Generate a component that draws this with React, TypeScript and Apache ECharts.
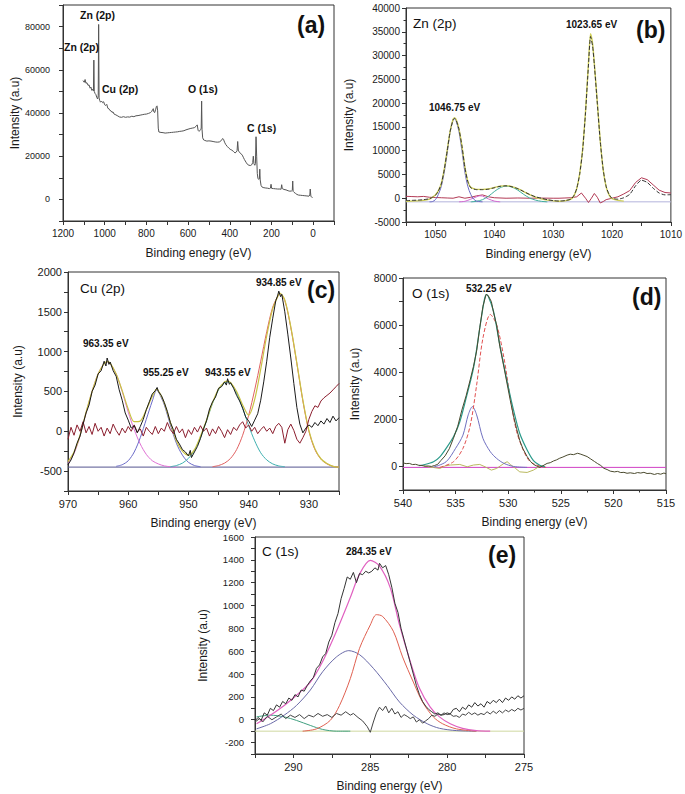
import React, { useEffect, useRef } from "react";
import * as echarts from "echarts";

type P = [number, number][];

// ---------- (a) survey spectrum ----------
const surveyData: P = [
  [1104, 55000], [1098, 54200], [1094, 55500], [1090, 53800], [1085, 54000], [1080, 52800], [1075, 53000], [1070, 51500],
  [1066, 52000], [1062, 50500], [1058, 51000], [1054, 50200], [1052, 64500], [1050, 50000], [1046, 49000], [1042, 48500],
  [1038, 47200], [1034, 46500], [1031, 48000], [1029, 81000], [1027, 47000], [1024, 45800], [1020, 45000], [1015, 45500],
  [1010, 44800], [1005, 45200], [1000, 43800], [995, 43500], [990, 44000], [985, 42200], [980, 42000], [975, 41200],
  [970, 41000], [965, 40300], [960, 40500], [955, 39500], [950, 39300], [940, 38800], [930, 38200], [920, 38000],
  [910, 38300], [900, 38000], [890, 38200], [880, 38100], [870, 38500], [860, 38300], [850, 38700], [840, 38800],
  [830, 39000], [820, 39200], [810, 39400], [800, 39500], [790, 39800], [780, 40200], [774, 40800], [770, 41600],
  [767, 42000], [764, 40500], [760, 40200], [756, 41500], [752, 43000], [749, 43300], [746, 41000], [743, 33000],
  [740, 31200], [730, 31000], [720, 30900], [710, 30700], [700, 30800], [690, 30900], [680, 31000], [670, 31100],
  [660, 31200], [650, 31300], [640, 31500], [630, 31600], [620, 31800], [610, 32200], [600, 32500], [590, 32800],
  [580, 33000], [570, 33200], [562, 33800], [556, 34500], [552, 32000], [548, 31500], [544, 31800], [540, 32200],
  [537, 33000], [535, 45500], [533, 32500], [530, 28500], [525, 27500], [520, 27300], [510, 27000], [500, 27100],
  [490, 27000], [480, 26800], [470, 26600], [460, 26500], [450, 26600], [440, 27300], [434, 28200], [430, 27800],
  [425, 26500], [420, 25500], [412, 24500], [405, 23800], [398, 23200], [390, 22800], [382, 22200], [375, 21500],
  [370, 21800], [365, 22500], [362, 26800], [359, 22800], [355, 22000], [350, 21500], [345, 21000], [340, 20500],
  [335, 19500], [330, 18500], [322, 17200], [315, 16200], [308, 15800], [300, 15700], [295, 16000], [290, 17000],
  [287, 20000], [284, 16500], [280, 15800], [277, 16500], [274, 29000], [271, 20000], [268, 12000], [265, 9800],
  [262, 9300], [258, 9500], [256, 14000], [254, 9000], [250, 6500], [246, 5800], [240, 5500], [230, 5300],
  [220, 5200], [210, 5000], [205, 5200], [202, 7000], [199, 5100], [190, 5000], [180, 4900], [170, 4800],
  [160, 4800], [154, 4700], [151, 6800], [148, 5000], [140, 4600], [130, 4400], [120, 4000], [112, 3800],
  [104, 3900], [100, 4200], [98, 8500], [96, 3700], [92, 3300], [85, 2800], [78, 2300], [70, 2000],
  [60, 1900], [50, 1800], [40, 1700], [30, 1600], [20, 1500], [16, 2000], [14, 4800], [11, 1500],
  [7, 1000], [3, 900], [0, 800],
];

// ---------- (b) Zn 2p ----------
const znData: P = [
  [1055, -500], [1054, -450], [1053, -400], [1052, -300], [1051, -100], [1050.5, 200], [1050, 600], [1049.5, 1500],
  [1049, 3000], [1048.5, 6000], [1048, 10000], [1047.5, 14000], [1047, 16500], [1046.75, 16800], [1046.5, 16500],
  [1046, 14500], [1045.5, 11000], [1045, 6500], [1044.5, 3500], [1044, 2200], [1043, 1800], [1042, 1800], [1041, 1900],
  [1040, 2200], [1039, 2500], [1038, 2600], [1037, 2400], [1036, 2000], [1035, 1400], [1034, 800], [1033, 300],
  [1032, 0], [1031, -300], [1030, -500], [1029, -600], [1028, -500], [1027, -200], [1026.5, 500], [1026, 2000],
  [1025.5, 5000], [1025, 10000], [1024.5, 18000], [1024, 28000], [1023.65, 34000], [1023.3, 32000], [1023, 28000],
  [1022.5, 20000], [1022, 12000], [1021.5, 6000], [1021, 2500], [1020.5, 800], [1020, 0], [1019, -200], [1018, 100],
  [1017, 800], [1016, 2600], [1015, 3800], [1014, 3300], [1013, 2100], [1012, 1100], [1011, 700], [1010, 750],
];
const znEnvelope: P = [
  [1055, -650], [1052, -450], [1051, -200], [1050.5, 200], [1050, 700], [1049.5, 1600], [1049, 3100], [1048.5, 6100],
  [1048, 10100], [1047.5, 14100], [1047, 16600], [1046.75, 16900], [1046.5, 16600], [1046, 14600], [1045.5, 11000],
  [1045, 6600], [1044.5, 3600], [1044, 2300], [1043, 1850], [1042, 1850], [1041, 1950], [1040, 2250], [1039, 2550],
  [1038, 2650], [1037, 2450], [1036, 2000], [1035, 1400], [1034, 750], [1033, 200], [1032, -150], [1031, -400],
  [1030, -550], [1029, -650], [1028, -550], [1027, -200], [1026.5, 450], [1026, 2000], [1025.5, 5100], [1025, 10200],
  [1024.5, 18300], [1024, 28500], [1023.65, 34600], [1023.3, 32500], [1023, 28300], [1022.5, 20200], [1022, 12100],
  [1021.5, 6000], [1021, 2400], [1020.5, 700], [1020, -100], [1019, -450], [1018, -600],
];
const znComp1: P = [
  [1051, -760], [1050.5, -700], [1050, -300], [1049.5, 800], [1049, 2500], [1048.5, 5500], [1048, 9500], [1047.5, 14000],
  [1047, 16400], [1046.75, 16700], [1046.5, 16300], [1046, 14000], [1045.5, 10000], [1045, 5500], [1044.5, 2500],
  [1044, 800], [1043.5, -200], [1043, -600], [1042, -760],
];
const znComp2: P = [
  [1046, -760], [1045, -650], [1044, -200], [1043, 300], [1042.5, 500], [1042, 450], [1041.5, 150], [1041, -150],
  [1040, -600], [1039, -760],
];
const znComp3: P = [
  [1044, -760], [1043, -650], [1042, -300], [1041, 400], [1040, 1400], [1039, 2200], [1038, 2550], [1037, 2350],
  [1036, 1700], [1035, 800], [1034, 50], [1033, -400], [1032, -650], [1031, -760],
];
const znResidual: P = [
  [1055, 400], [1054, 350], [1053, 300], [1052, 380], [1051, 200], [1050, 150], [1049, 100], [1048, 50], [1047, 0],
  [1046, 300], [1045, 0], [1044, 200], [1043, 500], [1042, 700], [1041, 300], [1040, 100], [1038, 0], [1036, 50],
  [1034, 0], [1032, 30], [1030, 0], [1029, 0], [1028, 50], [1027, 100], [1026, 300], [1025.2, 1100], [1024.5, 0],
  [1024, -900], [1023.5, 0], [1023, 1000], [1022.5, 200], [1022, -1000], [1021.5, -700], [1021, -300], [1020, 0],
  [1019, 300], [1018, 900], [1017, 1600], [1016, 3300], [1015, 4300], [1014, 3900], [1013, 2800], [1012, 1700],
  [1011, 1200], [1010, 1100],
];
const znBaseline = -760;

// ---------- (c) Cu 2p ----------
const cuData: P = [
  [970, -420], [969.5, -360], [969, -270], [968.5, -150], [968, -60], [967.5, 90], [967, 230], [966.5, 330], [966, 500],
  [965.5, 580], [965, 720], [964.5, 760], [964, 880], [963.7, 820], [963.5, 920], [963.2, 840], [963, 870], [962.5, 760],
  [962, 690], [961.5, 520], [961, 390], [960.5, 230], [960, 140], [959.5, 40], [959, 70], [958.5, -20], [958, 60],
  [957.5, 150], [957, 270], [956.5, 370], [956, 470], [955.5, 510], [955.2, 550], [955, 500], [954.5, 450], [954, 360],
  [953.5, 250], [953, 110], [952.5, 20], [952, -100], [951.5, -160], [951, -230], [950.5, -260], [950, -310],
  [949.7, -240], [949.5, -330], [949, -260], [948.5, -190], [948, -90], [947.5, 30], [947, 130], [946.5, 280],
  [946, 370], [945.5, 430], [945, 540], [944.5, 560], [944, 620], [943.7, 580], [943.5, 660], [943.2, 590], [943, 610],
  [942.5, 540], [942, 450], [941.5, 380], [941, 290], [940.5, 180], [940, 130], [939.5, 60], [939, 140], [938.5, 220],
  [938, 390], [937.5, 620], [937, 880], [936.5, 1180], [936, 1420], [935.5, 1640], [935.2, 1700], [935, 1760],
  [934.7, 1690], [934.5, 1720], [934, 1500], [933.5, 1220], [933, 920], [932.5, 600], [932, 300], [931.5, 90],
  [931, -20], [930.5, 40], [930, 80], [929.5, 50], [929, 110], [928.5, 70], [928, 130], [927.5, 90], [927, 160],
  [926.5, 110], [926, 190], [925.5, 130], [925, 170],
];
const cuResidual: P = [
  [970, -100], [969.5, 50], [969, -50], [968.5, 80], [968, 0], [967.5, 120], [967, -20], [966.5, 60], [966, -40],
  [965.5, 100], [965, 0], [964.5, 50], [964, -60], [963.5, 40], [963, -30], [962.5, 90], [962, 10], [961.5, -50],
  [961, 40], [960.5, -20], [960, 60], [959.5, 0], [959, 80], [958.5, -10], [958, 30], [957.5, -60], [957, 50],
  [956.5, 0], [956, -40], [955.5, 60], [955, -30], [954.5, 40], [954, 0], [953.5, 110], [953, 20], [952.5, -30],
  [952, 60], [951.5, -20], [951, 30], [950.5, -80], [950, 20], [949.5, -40], [949, 50], [948.5, -10], [948, 70],
  [947.5, 0], [947, 40], [946.5, -60], [946, 30], [945.5, -30], [945, 60], [944.5, 0], [944, -80], [943.5, 20],
  [943, -40], [942.5, 50], [942, 10], [941.5, 80], [941, 120], [940.5, 40], [940, 80], [939.5, 0], [939, 50],
  [938.5, -30], [938, 20], [937.5, 60], [937, 0], [936.5, 40], [936, -30], [935.5, 60], [935, 100], [934.5, 50],
  [934, -150], [933.5, 20], [933, 90], [932.5, 10], [932, -100], [931.5, -150], [931, -80], [930.5, 0], [930, 150],
  [929.5, 250], [929, 320], [928.5, 300], [928, 380], [927.5, 420], [927, 450], [926.5, 480], [926, 520],
  [925.5, 560], [925, 600],
];
const cuEnvelope: P = [
  [970, -380], [969, -260], [968, -50], [967, 240], [966, 500], [965, 720], [964, 850], [963.4, 875], [963, 855],
  [962, 720], [961, 510], [960, 280], [959, 120], [958, 130], [957, 270], [956, 440], [955.25, 530], [954.5, 440],
  [954, 350], [953, 110], [952, -120], [951, -250], [950, -300], [949, -230], [948, -60], [947, 140], [946, 360],
  [945, 530], [944, 620], [943.5, 630], [943, 610], [942, 500], [941, 330], [940, 200], [939, 400], [938, 780],
  [937, 1200], [936, 1540], [935, 1720], [934.85, 1735], [934, 1650], [933, 1310], [932, 860], [931, 390], [930, 10],
  [929, -220], [928, -345], [927, -405], [926, -440], [925, -450],
];
const cuComp1: P = [
  [970, -400], [969, -280], [968, -60], [967, 230], [966, 500], [965, 720], [964, 850], [963.4, 870], [963, 850],
  [962, 720], [961, 500], [960, 240], [959, 20], [958, -160], [957, -290], [956, -370], [955, -410], [954, -435],
  [953, -445], [952, -450],
];
const cuComp2: P = [
  [962, -440], [961, -420], [960, -370], [959, -260], [958, -80], [957, 150], [956, 380], [955.25, 520], [954.5, 420],
  [954, 330], [953, 80], [952, -150], [951, -300], [950, -390], [949, -430], [948, -445],
];
const cuComp3: P = [
  [953, -445], [952, -430], [951, -400], [950, -340], [949, -240], [948, -80], [947, 130], [946, 350], [945, 520],
  [944, 610], [943.55, 620], [943, 600], [942, 480], [941, 290], [940, 70], [939, -120], [938, -270], [937, -360],
  [936, -410], [935, -435], [934, -445],
];
const cuComp4: P = [
  [946, -445], [945, -430], [944, -400], [943, -340], [942, -230], [941, -50], [940, 200], [939, 520], [938, 880],
  [937, 1250], [936, 1560], [935, 1720], [934.85, 1730], [934, 1640], [933, 1300], [932, 850], [931, 380], [930, 0],
  [929, -230], [928, -350], [927, -410], [926, -440], [925, -450],
];
const cuBaseline = -450;

// ---------- (d) O 1s ----------
const oData: P = [
  [540, 150], [539.7, 120], [539.4, 130], [539.1, 80], [538.8, 90], [538.5, 50], [538.2, 40], [537.9, 10], [537.6, 20],
  [537.3, 0], [537, 40], [536.7, 90], [536.4, 250], [536, 450], [535.6, 750], [535.2, 1200], [534.8, 1700],
  [534.4, 2400], [534, 3000], [533.6, 3700], [533.3, 4250], [533, 4900], [532.7, 5900], [532.4, 6800], [532.1, 7300],
  [531.9, 7250], [531.6, 7000], [531.4, 6550], [531.1, 6000], [530.8, 5100], [530.4, 4200], [530.1, 3500],
  [529.8, 2800], [529.5, 2150], [529.2, 1600], [528.9, 1100], [528.6, 750], [528.2, 420], [527.9, 220], [527.6, 90],
  [527.3, 20], [527, -40], [526.7, 30], [526.3, 130], [526, 160], [525.7, 230], [525.4, 280], [525.1, 350],
  [524.8, 400], [524.4, 480], [524.1, 520], [523.8, 500], [523.4, 560], [523.1, 520], [522.8, 470], [522.5, 420],
  [522.2, 330], [521.8, 210], [521.5, 120], [521.2, 40], [520.9, -80], [520.6, -130], [520.3, -200], [519.9, -230],
  [519.6, -210], [519.3, -260], [519, -250], [518.7, -290], [518.4, -270], [518, -300], [517.7, -260], [517.4, -280],
  [517.1, -250], [516.8, -300], [516.5, -290], [516.1, -340], [515.8, -300], [515.5, -330], [515.2, -280], [515, -310],
];
const oEnvelope: P = [
  [538.5, 30], [538.1, 60], [537.1, 200], [536.5, 410], [535.9, 770], [535.2, 1260], [534.6, 1900], [534, 2900],
  [533.3, 4170], [532.7, 5880], [532.3, 7000], [532.1, 7300], [531.9, 7230], [531.4, 6590], [530.8, 5170],
  [530.1, 3600], [529.5, 2400], [528.9, 1400], [528.2, 700], [527.6, 250], [527, 50], [526.5, -20],
];
const oComp1: P = [
  [536.5, -40], [535.2, 200], [534.3, 770], [533.6, 1760], [533, 3460], [532.4, 5450], [531.7, 6450], [531.1, 6020],
  [530.4, 4600], [529.8, 2900], [529.2, 1480], [528.5, 625], [527.9, 200], [526.9, 0], [526.3, -40],
];
const oComp2: P = [
  [537.1, -30], [535.9, 200], [535, 770], [534.3, 1330], [533.8, 2190], [533.4, 2540], [533, 2190], [532.4, 1190],
  [531.7, 625], [531.1, 340], [530.4, 130], [529.5, 0], [528.2, -40],
];
const oResidual: P = [
  [538, 20], [537.5, -20], [536.5, -85], [536, 20], [535.5, 60], [534.6, 85], [533.9, -15], [533.3, 60], [532.7, 85],
  [532.2, -15], [531.6, -155], [531.1, -85], [530.4, 130], [530.1, 200], [529.8, 85], [529.3, -85], [528.9, -230],
  [528.2, -255], [527.6, -155], [527.1, -15], [526.6, 30],
];
const oBaseline = -40;

// ---------- (e) C 1s ----------
const cData: P = [
  [292.5, -10], [292.3, 20], [292.1, -5], [291.9, 60], [291.7, 40], [291.5, 100], [291.3, 80], [291.1, 130],
  [290.9, 110], [290.7, 160], [290.5, 140], [290.3, 190], [290.1, 170], [289.9, 220], [289.7, 200], [289.5, 260],
  [289.3, 250], [289.1, 300], [288.9, 340], [288.7, 370], [288.5, 450], [288.3, 480], [288.1, 550], [287.9, 580],
  [287.7, 680], [287.5, 740], [287.3, 850], [287.1, 930], [286.9, 1060], [286.7, 1150], [286.5, 1250], [286.3, 1230],
  [286.1, 1290], [285.9, 1200], [285.7, 1280], [285.5, 1270], [285.3, 1300], [285.1, 1285], [284.9, 1300],
  [284.7, 1330], [284.5, 1310], [284.4, 1370], [284.2, 1330], [284, 1350], [283.8, 1270], [283.6, 1160],
  [283.4, 1020], [283.2, 940], [283, 800], [282.8, 700], [282.6, 600], [282.4, 500], [282.2, 400], [282, 300],
  [281.8, 220], [281.6, 160], [281.4, 120], [281.2, 90], [281, 70], [280.8, 50], [280.6, 60], [280.4, 40],
  [280.2, 45], [280, 60], [279.8, 50], [279.6, 90], [279.4, 100], [279.2, 70], [279, 110], [278.8, 90], [278.6, 130],
  [278.4, 110], [278.2, 150], [278, 120], [277.8, 140], [277.6, 110], [277.4, 160], [277.2, 140], [277, 170],
  [276.8, 150], [276.6, 180], [276.4, 150], [276.2, 190], [276, 170], [275.8, 200], [275.6, 180], [275.4, 210],
  [275.2, 190], [275, 210],
];
const cResidual: P = [
  [292.5, -20], [292.2, 10], [292, -20], [291.7, 30], [291.4, 0], [291.1, 25], [290.8, 50], [290.5, 10], [290.2, 40],
  [289.9, 20], [289.6, 45], [289.3, 10], [289, 40], [288.7, 25], [288.4, 55], [288.1, 30], [287.8, 45], [287.5, 20],
  [287.2, 55], [286.9, 40], [286.6, 70], [286.3, 40], [286.1, 55], [285.8, 20], [285.5, -10], [285.2, -60],
  [285, -110], [284.8, -20], [284.6, 60], [284.4, 110], [284.2, 80], [284, 120], [283.8, 60], [283.6, 100],
  [283.4, 50], [283.2, 70], [283, 20], [282.8, 45], [282.6, 30], [282.4, 10], [282.2, 25], [282, -20], [281.8, 0],
  [281.6, -30], [281.4, -10], [281.2, 10], [281, 40], [280.8, 30], [280.6, 50], [280.4, 40], [280.2, 60], [280, 45],
  [279.8, 50], [279.6, 30], [279.4, 35], [279.2, 20], [279, 50], [278.8, 40], [278.6, 65], [278.4, 45], [278.2, 60],
  [278, 40], [277.8, 55], [277.6, 45], [277.4, 70], [277.2, 50], [277, 75], [276.8, 55], [276.6, 80], [276.4, 60],
  [276.2, 85], [276, 70], [275.8, 90], [275.6, 75], [275.4, 100], [275.2, 85], [275, 100],
];
const cEnvelope: P = [
  [292.4, -35], [291.5, 40], [290.6, 125], [289.8, 215], [288.9, 330], [288.1, 510], [287.2, 775], [286.3, 1070],
  [285.7, 1275], [285, 1395], [284.4, 1345], [283.7, 1155], [283.1, 830], [282.4, 510], [281.8, 275], [281.1, 110],
  [280.5, 25], [279.8, -35], [279, -75], [278.1, -95], [277.2, -100],
];
const cComp1: P = [
  [289.4, -100], [288.5, -80], [287.6, -5], [287, 125], [286.3, 360], [285.7, 625], [285, 830], [284.6, 920],
  [284.2, 905], [283.5, 775], [282.9, 550], [282.2, 330], [281.6, 155], [280.9, 25], [280.3, -35], [279.4, -80],
  [278.1, -100],
];
const cComp2: P = [
  [292.4, -80], [291.5, -35], [290.6, 40], [289.8, 125], [288.9, 260], [288.1, 420], [287.2, 550], [286.4, 605],
  [285.7, 570], [284.8, 450], [283.9, 300], [283.1, 155], [282.2, 40], [281.3, -35], [280.5, -75], [279.4, -95],
  [278.1, -100],
];
const cComp3: P = [
  [292.4, 25], [291.5, 40], [290.6, 25], [289.8, -6], [288.9, -50], [288.1, -85], [287.2, -100], [286.3, -100],
];
const cBaseline = -100;

// ---------- layout / style ----------
const FONT = "'Liberation Sans', Arial, Helvetica, sans-serif";
const INK = "#1a1a1a";

const grids = [
  { left: 63, top: 5, width: 271, height: 216 },
  { left: 406, top: 8, width: 266, height: 214 },
  { left: 68, top: 272, width: 271, height: 219 },
  { left: 403, top: 278, width: 263, height: 212 },
  { left: 255, top: 537, width: 269, height: 217 },
];

const isMult = (v: number, s: number) => Math.abs(v / s - Math.round(v / s)) < 1e-6;

function xAx(i: number, min: number, max: number, interval: number, step: number, name: string,
  fs: number, minor = false) {
  return {
    type: "value", gridIndex: i, min, max, interval, inverse: true,
    name, nameLocation: "middle", nameGap: 26,
    nameTextStyle: { fontSize: 12, color: INK, fontFamily: FONT },
    axisLine: { onZero: false, lineStyle: { color: "#333", width: 1 } },
    axisTick: { length: 4, lineStyle: { color: "#333" } },
    minorTick: { show: minor, splitNumber: 2, length: 2.5, lineStyle: { color: "#333" } },
    splitLine: { show: false },
    axisLabel: {
      fontSize: fs, color: INK, fontFamily: FONT, margin: 7,
      formatter: (v: number) => (isMult(v, step) ? String(v) : ""),
    },
  };
}

function yAx(i: number, min: number, max: number, interval: number, step: number, gap: number,
  fs: number, margin: number, minor = false) {
  return {
    type: "value", gridIndex: i, min, max, interval,
    name: "Intensity (a.u)", nameLocation: "middle", nameGap: gap,
    nameTextStyle: { fontSize: 12, color: INK, fontFamily: FONT },
    axisLine: { show: true, onZero: false, lineStyle: { color: "#333", width: 1 } },
    axisTick: { show: true, length: 4, lineStyle: { color: "#333" } },
    minorTick: { show: minor, splitNumber: 2, length: 2.5, lineStyle: { color: "#333" } },
    splitLine: { show: false },
    axisLabel: {
      fontSize: fs, color: INK, fontFamily: FONT, margin,
      formatter: (v: number) => (isMult(v, step) ? String(v) : ""),
    },
  };
}

function ln(i: number, data: P, color: string, opts: any = {}) {
  const { width = 1, type = "solid", smooth = false, z = 2 } = opts;
  return {
    type: "line", xAxisIndex: i, yAxisIndex: i, data, showSymbol: false, symbol: "none",
    smooth, silent: true, z, animation: false,
    lineStyle: { color, width, type },
  };
}

function base(i: number, min: number, max: number, v: number, color: string) {
  return ln(i, [[min, v], [max, v]], color, { width: 1, z: 1 });
}

function txt(x: number, y: number, s: string, size: number, bold: boolean) {
  return {
    type: "text", x, y, z: 50,
    style: {
      text: s, fill: "#111", fontSize: size, fontWeight: bold ? "bold" : "normal", fontFamily: FONT,
      align: "left", verticalAlign: "middle",
    },
  };
}

const option: any = {
  animation: false,
  backgroundColor: "#ffffff",
  grid: grids.map((g) => ({ ...g, show: true, borderColor: "#333", borderWidth: 1, backgroundColor: "transparent", containLabel: false })),
  xAxis: [
    xAx(0, -100, 1200, 100, 200, "Binding enegry (eV)", 10),
    xAx(1, 1010, 1055, 5, 10, "Binding energy (eV)", 10),
    xAx(2, 925, 970, 5, 10, "Binding energy (eV)", 11),
    xAx(3, 515, 540, 5, 5, "Binding energy (eV)", 11, true),
    xAx(4, 275, 292.5, 2.5, 5, "Binding energy (eV)", 11),
  ],
  yAxis: [
    yAx(0, -10000, 90000, 10000, 20000, 37, 9, 13),
    yAx(1, -5000, 40000, 5000, 5000, 51, 10, 6, true),
    yAx(2, -750, 2000, 250, 500, 44, 11, 6),
    yAx(3, -1000, 8000, 1000, 2000, 42, 10.5, 6),
    yAx(4, -300, 1600, 100, 200, 46, 9.5, 11),
  ],
  series: [
    // (a)
    ln(0, surveyData, "#555", { width: 1 }),
    // (b)
    base(1, 1010, 1055, znBaseline, "#b4b4dc"),
    ln(1, znResidual, "#b23a55", { width: 1 }),
    ln(1, znComp2, "#d36ad0", { smooth: 0.3 }),
    ln(1, znComp3, "#3fae9a", { smooth: 0.3 }),
    ln(1, znComp1, "#6b6bc4", { smooth: 0.3 }),
    ln(1, znEnvelope, "#cfcf5a", { width: 1.4, smooth: 0.2 }),
    ln(1, znData, "#333", { width: 1, type: "dashed", smooth: 0.2, z: 3 }),
    // (c)
    base(2, 925, 970, cuBaseline, "#55558f"),
    ln(2, cuComp1, "#e070d4", { smooth: 0.3 }),
    ln(2, cuComp2, "#6a6ac8", { smooth: 0.3 }),
    ln(2, cuComp3, "#3fb0b0", { smooth: 0.3 }),
    ln(2, cuComp4, "#e06060", { smooth: 0.3 }),
    ln(2, cuEnvelope, "#c9c244", { width: 1.2, smooth: 0.3 }),
    ln(2, cuResidual, "#8b1e2e", { width: 1 }),
    ln(2, cuData, "#1a1a1a", { width: 1, z: 3 }),
    // (d)
    base(3, 515, 540, oBaseline, "#d040c4"),
    ln(3, oResidual, "#b9b85e", { width: 1 }),
    ln(3, oComp2, "#7070c0", { smooth: 0.3 }),
    ln(3, oComp1, "#e05050", { type: "dashed", smooth: 0.3 }),
    ln(3, oEnvelope, "#2a9a8a", { width: 1.2, smooth: 0.3 }),
    ln(3, oData, "#4a4a2e", { width: 1, z: 3 }),
    // (e)
    base(4, 275, 292.5, cBaseline, "#cfd8a0"),
    ln(4, cComp3, "#40a080", { smooth: 0.3 }),
    ln(4, cComp2, "#6a6aa8", { smooth: 0.3 }),
    ln(4, cComp1, "#e06050", { smooth: 0.3 }),
    ln(4, cEnvelope, "#e060c0", { width: 1.2, smooth: 0.3 }),
    ln(4, cResidual, "#444", { width: 1 }),
    ln(4, cData, "#333", { width: 1, z: 3 }),
  ],
  graphic: [
    txt(80, 15, "Zn (2p)", 10.5, true),
    txt(64, 47, "Zn (2p)", 10.5, true),
    txt(102, 89, "Cu (2p)", 10.5, true),
    txt(188, 89, "O (1s)", 10.5, true),
    txt(247, 128, "C (1s)", 10.5, true),
    txt(297, 25, "(a)", 23, true),

    txt(413, 23, "Zn (2p)", 13.5, false),
    txt(566, 24, "1023.65 eV", 10, true),
    txt(429, 107, "1046.75 eV", 10, true),
    txt(636, 30, "(b)", 23, true),

    txt(80, 288, "Cu (2p)", 13.5, false),
    txt(256, 282, "934.85 eV", 10, true),
    txt(307, 290, "(c)", 23, true),
    txt(83, 343, "963.35 eV", 10, true),
    txt(143, 372, "955.25 eV", 10, true),
    txt(205, 372, "943.55 eV", 10, true),

    txt(412, 293, "O (1s)", 13.5, false),
    txt(466, 288, "532.25 eV", 10, true),
    txt(632, 297, "(d)", 23, true),

    txt(262, 551, "C (1s)", 13.5, false),
    txt(346, 551, "284.35 eV", 10, true),
    txt(488, 555, "(e)", 23, true),
  ],
};

export default function App() {
  const ref = useRef<HTMLDivElement>(null);
  useEffect(() => {
    if (!ref.current) return;
    const chart = echarts.init(ref.current, null, { renderer: "svg" });
    chart.setOption(option);
    return () => chart.dispose();
  }, []);
  return (
    <div
      ref={ref}
      style={{ position: "absolute", left: 0, top: 0, width: 685, height: 794, background: "#fff" }}
    />
  );
}
